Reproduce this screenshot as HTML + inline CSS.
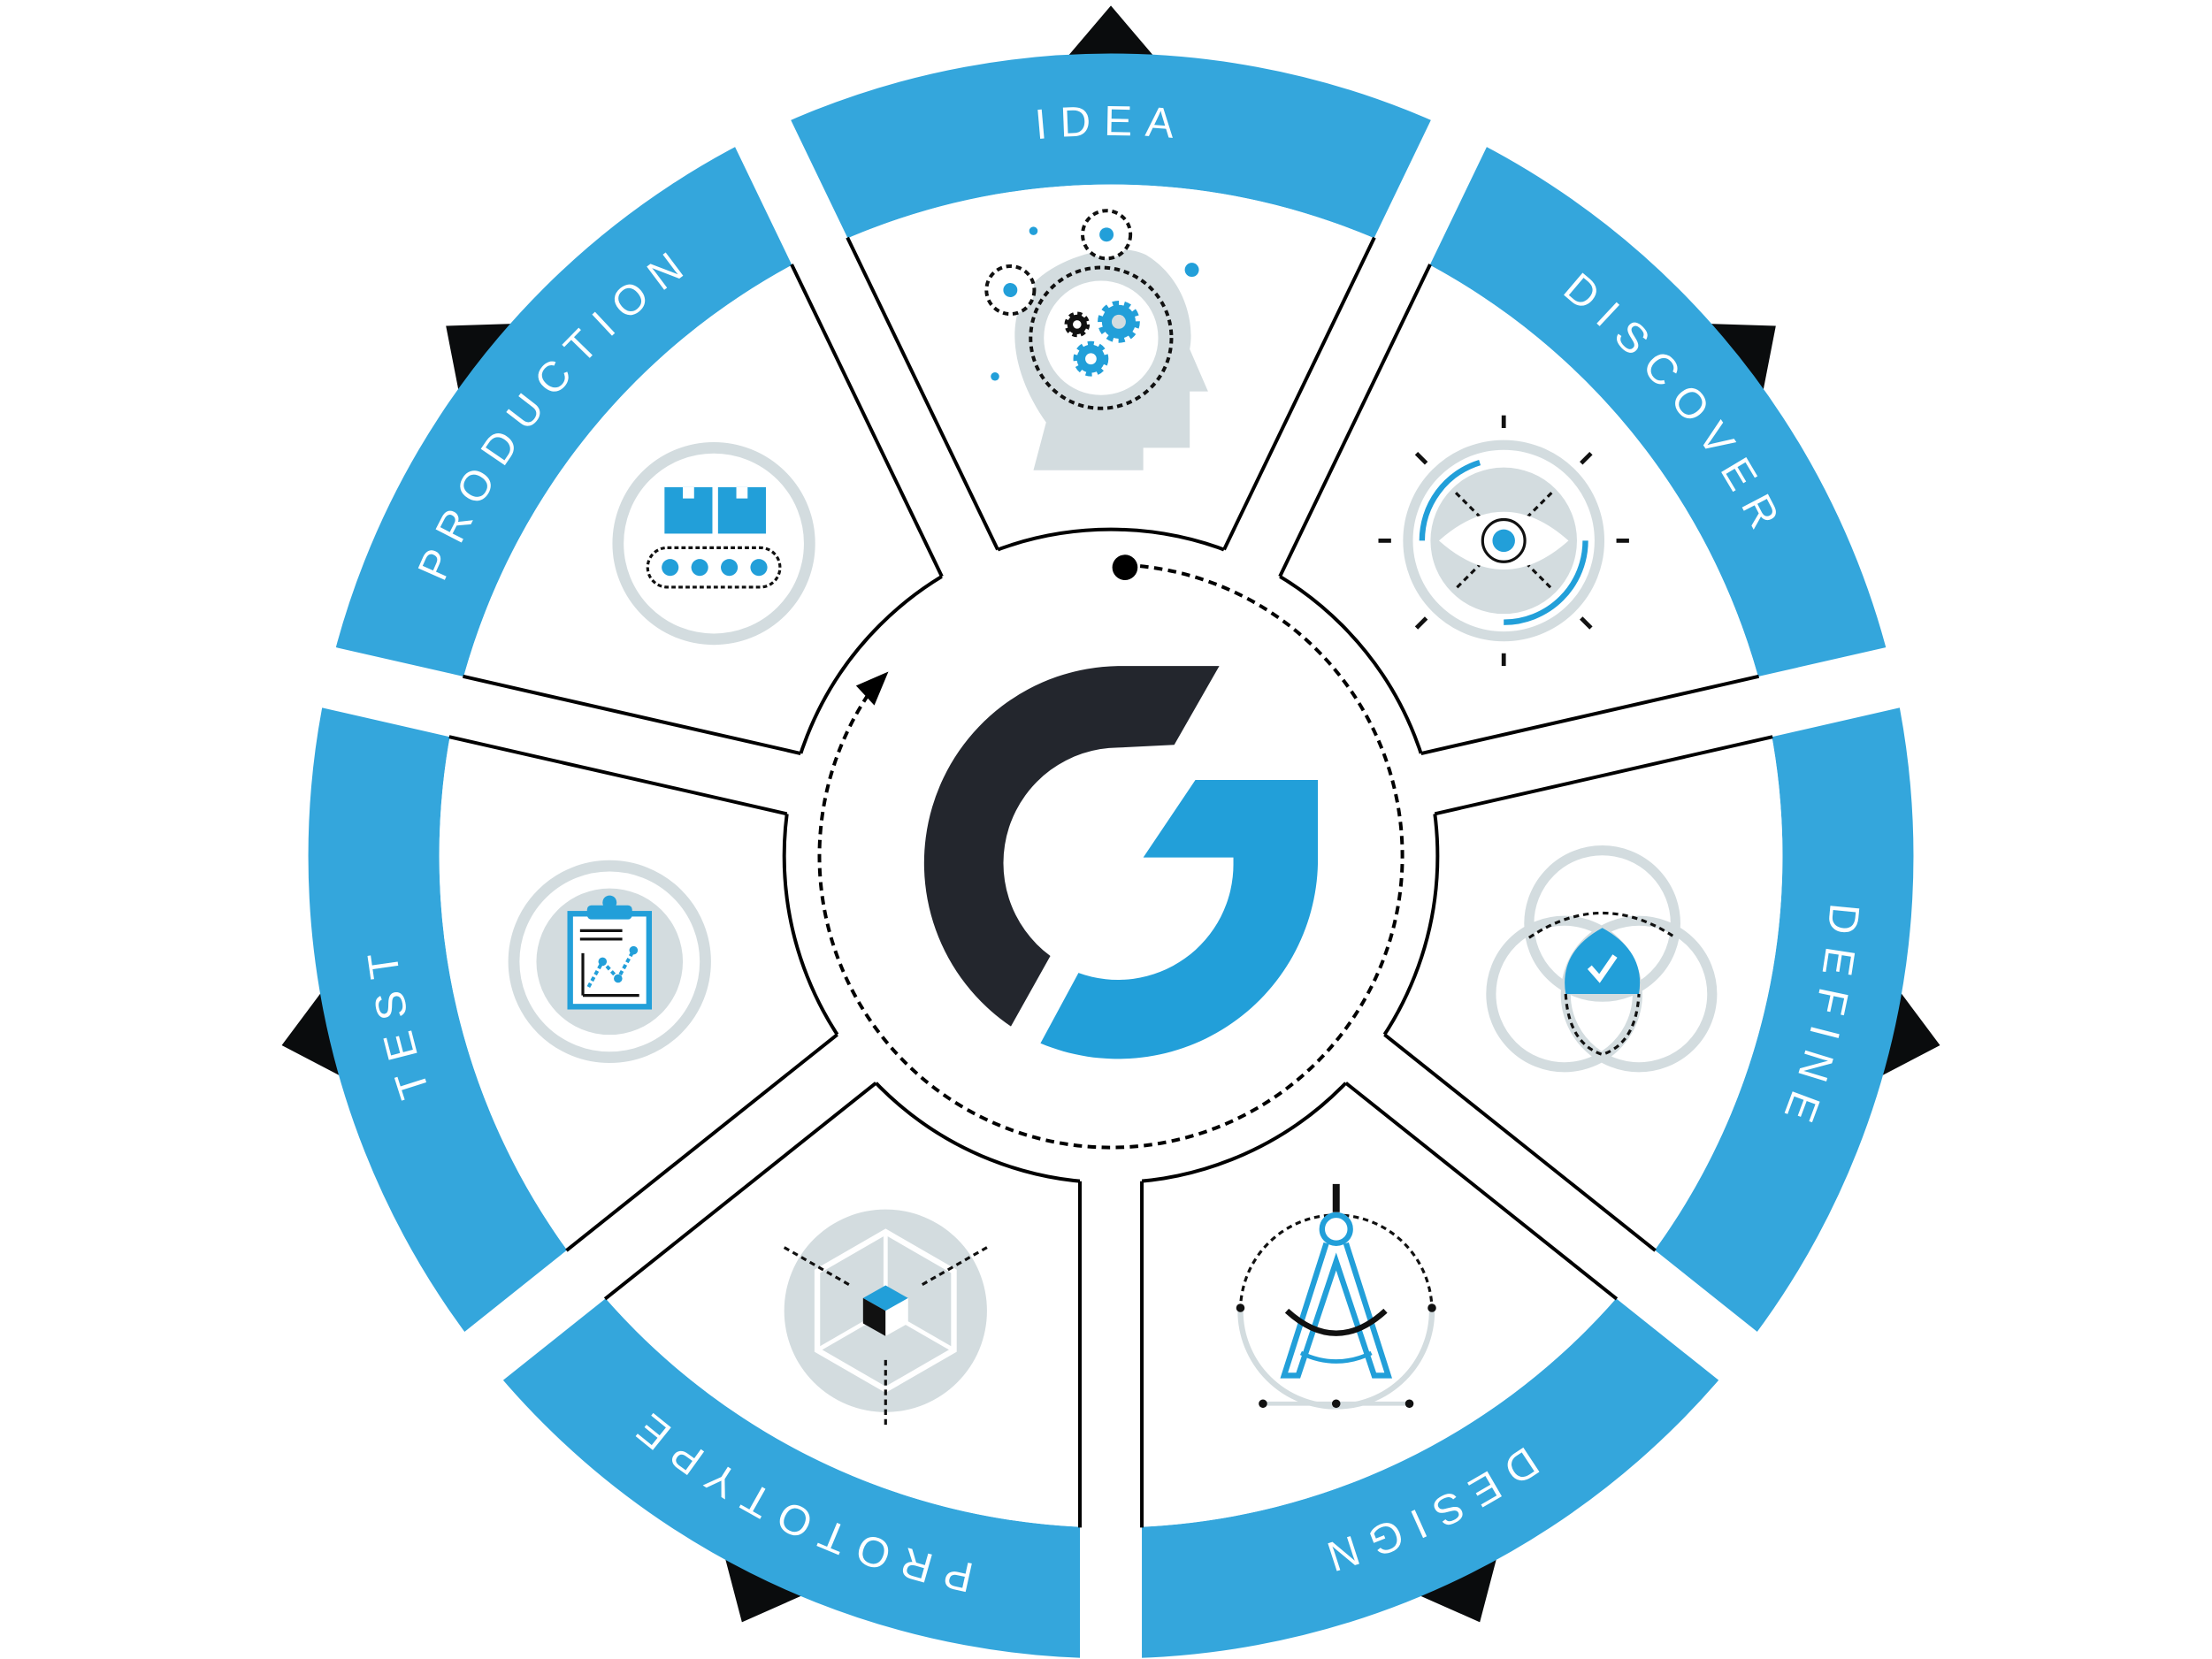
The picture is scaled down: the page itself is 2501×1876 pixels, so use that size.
<!DOCTYPE html>
<html><head><meta charset="utf-8"><style>html,body{margin:0;padding:0;background:#fff;overflow:hidden}svg{display:block}</style></head>
<body>
<svg width="2501" height="1876" viewBox="0 0 1563.1 1172.5" preserveAspectRatio="none" xmlns="http://www.w3.org/2000/svg">
<rect width="1563.1" height="1172.5" fill="#fff"/>
<g transform="translate(785 605) scale(0.995) translate(-785 -607)">
<g fill="#0a0c0d">
<polygon points="785,3 745,50 825,50" transform="rotate(0 785 607)"/>
<polygon points="785,3 745,50 825,50" transform="rotate(51.43 785 607)"/>
<polygon points="785,3 745,50 825,50" transform="rotate(102.86 785 607)"/>
<polygon points="785,3 745,50 825,50" transform="rotate(154.29 785 607)"/>
<polygon points="785,3 745,50 825,50" transform="rotate(205.71 785 607)"/>
<polygon points="785,3 745,50 825,50" transform="rotate(257.14 785 607)"/>
<polygon points="785,3 745,50 825,50" transform="rotate(308.57 785 607)"/>
</g>
<circle cx="785" cy="607" r="523.5" fill="none" stroke="#34a6dc" stroke-width="93"/>
<circle cx="785" cy="607" r="477" fill="#fff"/>
<circle cx="785" cy="607" r="232" fill="#fff" stroke="#000" stroke-width="2.5"/>
<g id="gaps">
<g transform="rotate(-64.29 785 607)"><rect x="1000" y="585" width="420" height="44" fill="#fff"/><line x1="1016" y1="585" x2="1262" y2="585" stroke="#000" stroke-width="2.5"/><line x1="1016" y1="629" x2="1262" y2="629" stroke="#000" stroke-width="2.5"/></g>
<g transform="rotate(-12.86 785 607)"><rect x="1000" y="585" width="420" height="44" fill="#fff"/><line x1="1016" y1="585" x2="1262" y2="585" stroke="#000" stroke-width="2.5"/><line x1="1016" y1="629" x2="1262" y2="629" stroke="#000" stroke-width="2.5"/></g>
<g transform="rotate(38.57 785 607)"><rect x="1000" y="585" width="420" height="44" fill="#fff"/><line x1="1016" y1="585" x2="1262" y2="585" stroke="#000" stroke-width="2.5"/><line x1="1016" y1="629" x2="1262" y2="629" stroke="#000" stroke-width="2.5"/></g>
<g transform="rotate(90 785 607)"><rect x="1000" y="585" width="420" height="44" fill="#fff"/><line x1="1016" y1="585" x2="1262" y2="585" stroke="#000" stroke-width="2.5"/><line x1="1016" y1="629" x2="1262" y2="629" stroke="#000" stroke-width="2.5"/></g>
<g transform="rotate(141.43 785 607)"><rect x="1000" y="585" width="420" height="44" fill="#fff"/><line x1="1016" y1="585" x2="1262" y2="585" stroke="#000" stroke-width="2.5"/><line x1="1016" y1="629" x2="1262" y2="629" stroke="#000" stroke-width="2.5"/></g>
<g transform="rotate(192.86 785 607)"><rect x="1000" y="585" width="420" height="44" fill="#fff"/><line x1="1016" y1="585" x2="1262" y2="585" stroke="#000" stroke-width="2.5"/><line x1="1016" y1="629" x2="1262" y2="629" stroke="#000" stroke-width="2.5"/></g>
<g transform="rotate(244.29 785 607)"><rect x="1000" y="585" width="420" height="44" fill="#fff"/><line x1="1016" y1="585" x2="1262" y2="585" stroke="#000" stroke-width="2.5"/><line x1="1016" y1="629" x2="1262" y2="629" stroke="#000" stroke-width="2.5"/></g>
</g>
<defs>
<path id="p1" d="M576.8,139.3 A512 512 0 0 1 993.2,139.3"/>
<path id="p2" d="M1020.9,152.6 A512 512 0 0 1 1280.5,478.2"/>
<path id="p3" d="M1287.4,508.1 A512 512 0 0 1 1194.7,914.1"/>
<path id="p4" d="M1175.5,938.2 A512 512 0 0 1 800.2,1118.8"/>
<path id="p5" d="M769.8,1118.8 A512 512 0 0 1 394.5,938.2"/>
<path id="p6" d="M375.3,914.1 A512 512 0 0 1 282.6,508.1"/>
<path id="p7" d="M289.5,478.2 A512 512 0 0 1 549.1,152.6"/>
</defs>
<g font-family="Liberation Sans, sans-serif" font-size="30" fill="#fff" letter-spacing="9" text-anchor="middle">
<text><textPath href="#p1" startOffset="50%">IDEA</textPath></text>
<text><textPath href="#p2" startOffset="50%">DISCOVER</textPath></text>
<text><textPath href="#p3" startOffset="50%">DEFINE</textPath></text>
<text><textPath href="#p4" startOffset="50%">DESIGN</textPath></text>
<text><textPath href="#p5" startOffset="50%">PROTOTYPE</textPath></text>
<text><textPath href="#p6" startOffset="50%">TEST</textPath></text>
<text><textPath href="#p7" startOffset="50%">PRODUCTION</textPath></text>
</g>
<path d="M795.8,400.3 A207 207 0 1 1 614.4,489.8" fill="none" stroke="#000" stroke-width="2.5" stroke-dasharray="6 4"/>
<circle cx="795" cy="402" r="9" fill="#000"/>
<polygon points="627,476 604,486 617,500" fill="#000"/>
<path d="M862,472 L830,528 L790,530 A82 82 0 0 0 742,678 L714,728 A140 140 0 0 1 790,472 Z" fill="#23262d"/>
<path d="M845,553 L932,553 L932,612 A142 142 0 0 1 735,740 L762,690 A82 82 0 0 0 872,612 L872,608 L808,608 Z" fill="#229fd9"/>
<path d="M730,333 L739,299 C715,265 708,225 730,200 C750,180 790,170 810,180 C835,195 845,225 841,247 L854,277 L841,277 L841,317 L808,317 L808,333 Z" fill="#d3dcdf"/>
<circle cx="778" cy="239" r="40.6" fill="#fff"/>
<circle cx="778" cy="239" r="50" fill="none" stroke="#111" stroke-width="2.5" stroke-dasharray="4 3"/>
<circle cx="713.6" cy="205" r="17" fill="#fff" stroke="#111" stroke-width="2.5" stroke-dasharray="4 3"/>
<circle cx="713.6" cy="205" r="5" fill="#229fd9"/>
<circle cx="781.9" cy="165.6" r="17" fill="#fff" stroke="#111" stroke-width="2.5" stroke-dasharray="4 3"/>
<circle cx="781.9" cy="165.6" r="5" fill="#229fd9"/>
<circle cx="730" cy="163" r="3" fill="#229fd9"/><circle cx="842.5" cy="190.6" r="5" fill="#229fd9"/><circle cx="702.7" cy="266.4" r="3" fill="#229fd9"/>
<circle cx="790.6" cy="227.5" r="12" fill="#229fd9" stroke="#229fd9" stroke-width="6" stroke-dasharray="4 3.5"/><circle cx="790.6" cy="227.5" r="5" fill="#d3dcdf"/>
<circle cx="770.8" cy="253.8" r="10" fill="#229fd9" stroke="#229fd9" stroke-width="5" stroke-dasharray="4 3.5"/><circle cx="770.8" cy="253.8" r="4" fill="#fff"/>
<circle cx="761" cy="229.4" r="7" fill="#111" stroke="#111" stroke-width="4" stroke-dasharray="3 2.5"/><circle cx="761" cy="229.4" r="3" fill="#fff"/>
<circle cx="1064" cy="383" r="68" fill="none" stroke="#d3dcdf" stroke-width="7"/>
<circle cx="1064" cy="383" r="52" fill="#d3dcdf"/>
<path d="M1064,383 m-58,0 a58 58 0 0 1 41,-55.5" fill="none" stroke="#229fd9" stroke-width="4"/>
<path d="M1064,383 m58,0 a58 58 0 0 1 -58,58" fill="none" stroke="#229fd9" stroke-width="4"/>
<g stroke="#111" stroke-width="2" stroke-dasharray="4 3"><line x1="1030" y1="349" x2="1098" y2="417"/><line x1="1098" y1="349" x2="1030" y2="417"/></g>
<path d="M1018,383 Q1064,342 1110,383 Q1064,424 1018,383 Z" fill="#fff"/>
<circle cx="1064" cy="383" r="15" fill="#fff" stroke="#111" stroke-width="2"/>
<circle cx="1064" cy="383" r="8" fill="#229fd9"/>
<g stroke="#111" stroke-width="3"><line x1="1064" y1="294" x2="1064" y2="303"/><line x1="1064" y1="463" x2="1064" y2="472"/><line x1="975" y1="383" x2="984" y2="383"/><line x1="1144" y1="383" x2="1153" y2="383"/><line x1="1002" y1="321" x2="1009" y2="328"/><line x1="1126" y1="321" x2="1119" y2="328"/><line x1="1002" y1="445" x2="1009" y2="438"/><line x1="1126" y1="445" x2="1119" y2="438"/></g>
<circle cx="503" cy="385" r="68" fill="#fff" stroke="#d3dcdf" stroke-width="8"/>
<rect x="468" y="345" width="34" height="33" fill="#229fd9"/><rect x="506" y="345" width="34" height="33" fill="#229fd9"/>
<rect x="481" y="345" width="8" height="8" fill="#fff"/><rect x="519" y="345" width="8" height="8" fill="#fff"/>
<rect x="456" y="388" width="94" height="28" rx="14" fill="none" stroke="#111" stroke-width="2" stroke-dasharray="3 2"/>
<g fill="#229fd9"><circle cx="472" cy="402" r="6"/><circle cx="493" cy="402" r="6"/><circle cx="514" cy="402" r="6"/><circle cx="535" cy="402" r="6"/></g>
<circle cx="429" cy="682" r="68" fill="#fff" stroke="#d3dcdf" stroke-width="8"/>
<circle cx="429" cy="682" r="52" fill="#d3dcdf"/>
<rect x="401" y="648" width="56" height="66" fill="#fff" stroke="#229fd9" stroke-width="4"/>
<rect x="413" y="642" width="32" height="10" rx="3" fill="#229fd9"/><circle cx="429" cy="640" r="5" fill="#229fd9"/>
<g stroke="#111" stroke-width="2"><line x1="408" y1="660" x2="438" y2="660"/><line x1="408" y1="666" x2="438" y2="666"/><line x1="410" y1="676" x2="410" y2="706"/><line x1="410" y1="706" x2="450" y2="706"/></g>
<polyline points="414,700 424,682 435,694 446,674" fill="none" stroke="#229fd9" stroke-width="2.5" stroke-dasharray="3 2"/>
<g fill="#229fd9"><circle cx="424" cy="682" r="3"/><circle cx="435" cy="694" r="3"/><circle cx="446" cy="674" r="3"/></g>
<circle cx="625" cy="930" r="72" fill="#d3dcdf"/>
<polygon points="625,874 673.5,902 673.5,958 625,986 576.5,958 576.5,902" fill="none" stroke="#fff" stroke-width="4"/>
<g stroke="#fff" stroke-width="3"><line x1="625" y1="874" x2="625" y2="930"/><line x1="576.5" y1="958" x2="625" y2="930"/><line x1="673.5" y1="958" x2="625" y2="930"/></g>
<g stroke="#111" stroke-width="2" stroke-dasharray="4 3"><line x1="553" y1="885" x2="600" y2="912"/><line x1="697" y1="885" x2="650" y2="912"/><line x1="625" y1="965" x2="625" y2="1012"/></g>
<polygon points="625,912 641,921 625,930 609,921" fill="#229fd9"/>
<polygon points="609,921 625,930 625,948 609,939" fill="#111"/>
<polygon points="641,921 625,930 625,948 641,939" fill="#fff"/>
<path d="M877,930 A68 68 0 0 0 1013,930" fill="none" stroke="#d3dcdf" stroke-width="4"/>
<path d="M877,930 A68 68 0 0 1 1013,930" fill="none" stroke="#111" stroke-width="2" stroke-dasharray="4 3"/>
<line x1="893" y1="996" x2="997" y2="996" stroke="#d3dcdf" stroke-width="3"/>
<g fill="#111"><circle cx="893" cy="996" r="3"/><circle cx="945" cy="996" r="3"/><circle cx="997" cy="996" r="3"/><circle cx="877" cy="928" r="3"/><circle cx="1013" cy="928" r="3"/></g>
<line x1="945" y1="840" x2="945" y2="860" stroke="#111" stroke-width="5"/>
<circle cx="945" cy="872" r="10" fill="#fff" stroke="#229fd9" stroke-width="4"/>
<polyline points="938,882 908,976 918,976 945,895 972,976 982,976 952,882" fill="none" stroke="#229fd9" stroke-width="4"/>
<path d="M920,960 Q945,972 970,960" fill="none" stroke="#229fd9" stroke-width="3"/>
<path d="M910,930 Q945,962 980,930" fill="none" stroke="#111" stroke-width="4"/>
<g fill="none" stroke="#d3dcdf" stroke-width="7"><circle cx="1134" cy="655" r="52"/><circle cx="1107" cy="705" r="52"/><circle cx="1160" cy="705" r="52"/></g>
<path d="M1134,658 Q1165,675 1160,705 L1108,705 Q1103,675 1134,658 Z" fill="#229fd9"/>
<g fill="none" stroke="#111" stroke-width="2" stroke-dasharray="4 3"><path d="M1082,665 Q1134,630 1186,665"/><path d="M1108,705 Q1110,740 1134,748 Q1158,740 1160,705"/></g>
<polyline points="1125,686 1132,694 1143,678" fill="none" stroke="#fff" stroke-width="4"/>
</g>
</svg>
</body></html>
